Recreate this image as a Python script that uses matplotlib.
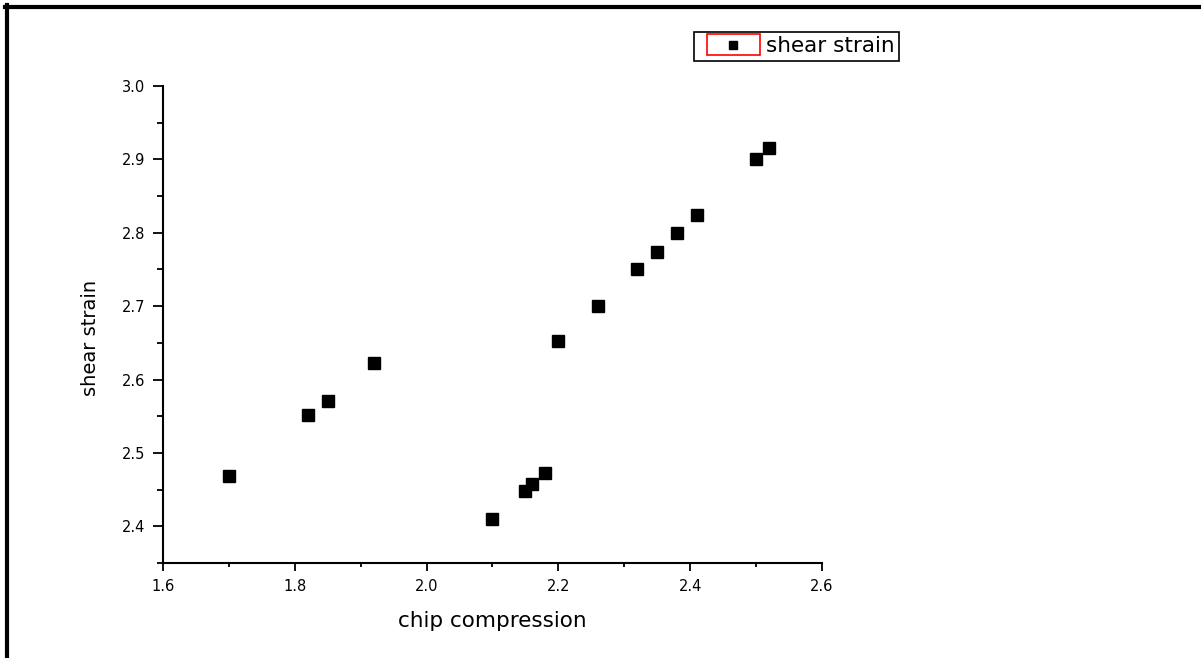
import numpy as np
from matplotlib import pyplot as plt
from matplotlib.lines import Line2D
from matplotlib.patches import Rectangle
from matplotlib.legend_handler import HandlerLine2D
from matplotlib.ticker import MultipleLocator

plt.rcParams['font.family'] = ['DejaVu Sans']

chip_compression = [1.70, 1.82, 1.85, 1.92, 2.10, 2.15, 2.16, 2.18,
                    2.20, 2.26, 2.32, 2.35, 2.38, 2.41, 2.50, 2.52]
shear_strain = [2.468, 2.552, 2.571, 2.623, 2.410, 2.448, 2.457, 2.472,
                2.653, 2.700, 2.750, 2.774, 2.799, 2.824, 2.900, 2.915]


class BoxedHandler(HandlerLine2D):
    # legend symbol with a red frame round it
    def create_artists(self, legend, orig_handle, xdescent, ydescent,
                       width, height, fontsize, trans):
        arts = super().create_artists(legend, orig_handle, xdescent, ydescent,
                                      width, height, fontsize, trans)
        off = 0.14 * width
        for a in arts:
            a.set_xdata(np.asarray(a.get_xdata()) + off / 2)
        box = Rectangle((-xdescent + off, -ydescent - 0.2 * height),
                        width - off, height * 1.4,
                        fill=False, edgecolor='red', lw=1.2, transform=trans)
        return [box] + arts


fig = plt.figure(figsize=(12.01, 6.58), dpi=100)
ax = fig.add_axes([0.1357, 0.1444, 0.5487, 0.7249])

ax.plot(chip_compression, shear_strain, ls='none', marker='s', ms=8,
        color='black', label='shear strain')

ax.set_xlim(1.6, 2.6)
ax.set_ylim(2.35, 3.0)
ax.xaxis.set_major_locator(MultipleLocator(0.2))
ax.xaxis.set_minor_locator(MultipleLocator(0.1))
ax.yaxis.set_major_locator(MultipleLocator(0.1))
ax.yaxis.set_minor_locator(MultipleLocator(0.05))
ax.xaxis.set_major_formatter(lambda v, p: f"{v:.1f}")
ax.yaxis.set_major_formatter(lambda v, p: f"{v:.1f}")

for side in ('top', 'right'):
    ax.spines[side].set_visible(False)
for side in ('left', 'bottom'):
    ax.spines[side].set_linewidth(1.5)

ax.tick_params(which='both', direction='out', width=1.3, colors='black')
ax.tick_params(axis='y', which='major', length=7, labelsize=10.5, pad=6)
ax.tick_params(axis='y', which='minor', length=4)
ax.tick_params(axis='x', which='major', length=5.5, labelsize=10.5, pad=6)
ax.tick_params(axis='x', which='minor', length=3)

ax.set_xlabel('chip compression', fontsize=15.5, labelpad=12)
ax.set_ylabel('shear strain', fontsize=14)
ax.yaxis.set_label_coords(-0.096, 0.472)

leg = ax.legend(loc='upper left', bbox_to_anchor=(694 / 1201, 1 - 32 / 658),
                bbox_transform=fig.transFigure, fontsize=15.5, frameon=True,
                fancybox=False, edgecolor='black', framealpha=1,
                borderpad=0.2, borderaxespad=0, handlelength=2.85,
                handletextpad=0.3, markerscale=0.75,
                handler_map={Line2D: BoxedHandler()})
leg.get_frame().set_linewidth(1.2)

# page border along the top and left edges
fig.add_artist(Line2D([5 / 1201, 1], [1 - 7 / 658, 1 - 7 / 658],
                      transform=fig.transFigure, color='black', lw=3))
fig.add_artist(Line2D([7 / 1201, 7 / 1201], [0, 1 - 5 / 658],
                      transform=fig.transFigure, color='black', lw=3))

fig.savefig('out.png', dpi=100)
